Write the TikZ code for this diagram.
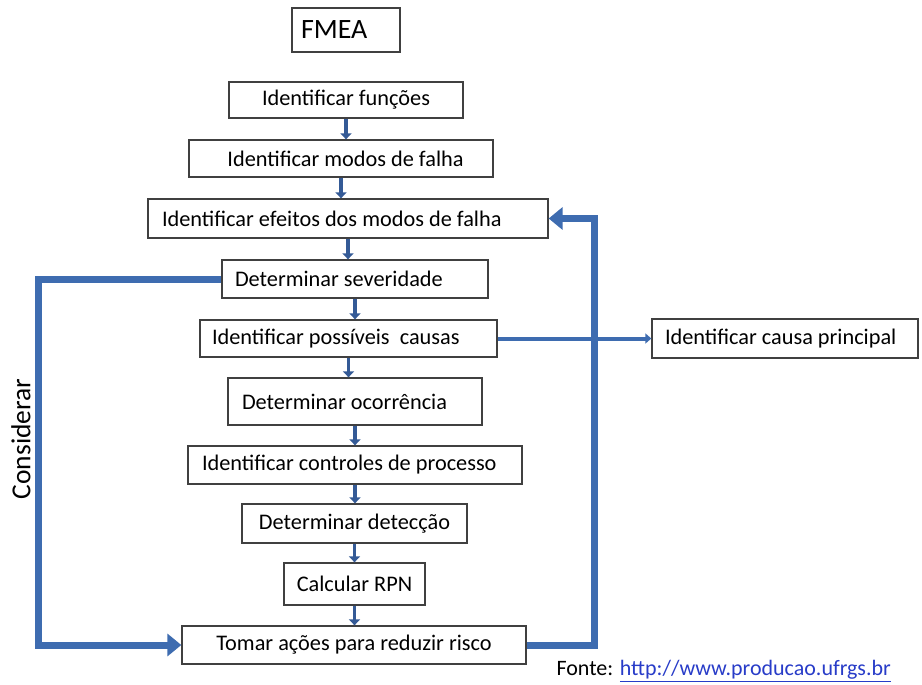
\documentclass[tikz,border=0pt]{standalone}
\usepackage{fontspec}
\setmainfont{Carlito}
\usetikzlibrary{arrows.meta}
\definecolor{azulfmea}{RGB}{62,108,176}
\definecolor{azulseta}{RGB}{52,90,150}
\definecolor{linkazul}{RGB}{40,60,200}
% left-aligned text in a box of fixed inner width
\newcommand{\rotulo}[2]{\makebox[#1][l]{#2}}

\begin{document}
\begin{tikzpicture}[x=1pt,y=-1pt,
  etapa/.style={draw=black!75,line width=1.3pt,fill=white,font=\fontsize{22.3}{26}\selectfont,
    inner ysep=0pt,text=black},
  seta/.style={-{Triangle[length=6pt,width=11pt]},line width=3.4pt,azulseta},
  laco/.style={-{Triangle[length=14pt,width=22pt]},line width=7pt,azulfmea}]
\useasboundingbox (0,0) rectangle (922,685);
% title box
\node[etapa,minimum height=44pt,inner xsep=9pt,font=\fontsize{28}{32}\selectfont] (fmea) at (346,30) {\rotulo{90pt}{FMEA}};
% main sequence (inner width = box width - 2 x padding)
\node[etapa,minimum height=36pt,minimum width=234pt] (funcoes) at (346,100) {Identificar funções};
\node[etapa,minimum height=37pt,minimum width=304pt] (modos) at (341,158.5) {\hspace*{9pt}Identificar modos de falha};
\node[etapa,minimum height=39pt,inner xsep=14pt] (efeitos) at (348,218.5) {\rotulo{372pt}{Identificar efeitos dos modos de falha}};
\node[etapa,minimum height=38pt,inner xsep=13pt] (severidade) at (355,279) {\rotulo{240pt}{Determinar severidade}};
\node[etapa,minimum height=37pt,inner xsep=12pt] (causas) at (348.5,338.5) {\rotulo{273pt}{Identificar possíveis\ \ causas}};
\node[etapa,minimum height=47pt,inner xsep=14pt] (ocorrencia) at (355,401.5) {\rotulo{226pt}{Determinar ocorrência}};
\node[etapa,minimum height=38pt,inner xsep=14pt] (controles) at (355,465) {\rotulo{306pt}{Identificar controles de processo}};
\node[etapa,minimum height=39pt,minimum width=225pt] (deteccao) at (354.5,523.5) {Determinar detecção};
\node[etapa,minimum height=42pt,minimum width=141pt] (rpn) at (354.5,584) {Calcular RPN};
\node[etapa,minimum height=38pt,minimum width=344pt] (acoes) at (354,645) {Tomar ações para reduzir risco};
\node[etapa,minimum height=39pt,inner xsep=13pt] (principal) at (785,338.5) {\rotulo{240pt}{Identificar causa principal}};
% small arrows between steps
\foreach \a/\b in {funcoes/modos,modos/efeitos,efeitos/severidade,severidade/causas,
  causas/ocorrencia,ocorrencia/controles,controles/deteccao,deteccao/rpn,rpn/acoes}
  \draw[seta] (\a.south) -- (\a.south |- \b.north);
% feedback loops
\coordinate (cantoE) at (38,645);
\coordinate (cantoD) at (594,645);
\draw[line width=4pt,azulfmea,-{Triangle[length=6pt,width=10pt]}] (causas.east) -- (principal.west);
\draw[laco] (severidade.west) -| (cantoE) -- (acoes.west);
\draw[laco] (acoes.east) -- (cantoD) |- (efeitos.east);
% side and source labels
\node[rotate=90,font=\fontsize{27.5}{30}\selectfont,text=black] (considerar) at (21,439) {Considerar};
\node[anchor=west,font=\fontsize{22}{24}\selectfont,text=black] (fonte) at (553,671)
  {Fonte: \textcolor{linkazul}{\underline{http://www.producao.ufrgs.br}}};
\end{tikzpicture}
\end{document}
